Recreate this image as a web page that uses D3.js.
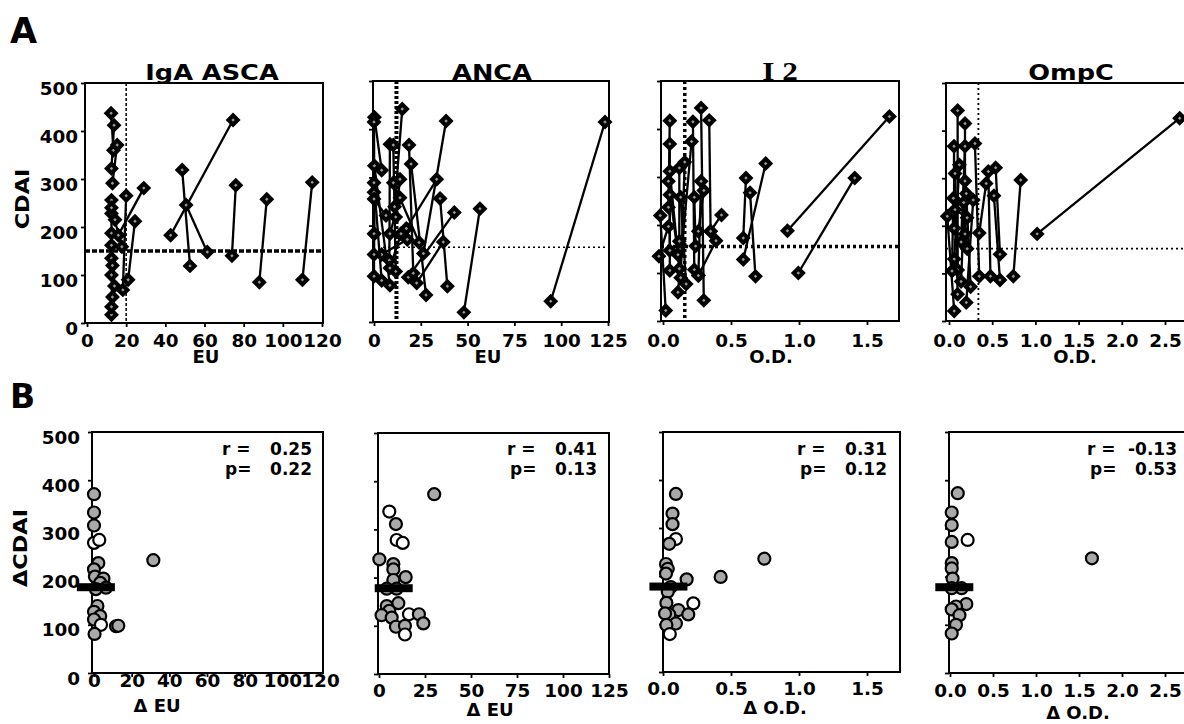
<!DOCTYPE html>
<html><head><meta charset="utf-8">
<script src="https://cdn.jsdelivr.net/npm/d3@7"></script>
<style>
body{margin:0;background:#fff}
svg{display:block}
text{font-family:"DejaVu Sans","Liberation Sans",Arial,sans-serif;font-weight:bold;fill:#000}
</style>
</head><body>
<svg id="c" width="1184" height="724"></svg>
<script>
// ---------------- DATA ----------------
const yTicks = [0,100,200,300,400,500];
const ascaTicks = [0,20,40,60,80,100,120];
const ancaTicks = [0,25,50,75,100,125];
const i2Ticks = [0,0.5,1.0,1.5];
const ompcTicks = [0,0.5,1.0,1.5,2.0,2.5];
const titles = ["IgA ASCA","ANCA","I 2","OmpC"];
const unitsA = ["EU","EU","O.D.","O.D."];
const unitsB = ["Δ EU","Δ EU","Δ O.D.","Δ O.D."];
const cutX = [20,12,0.16,0.34];
const cutY = [150,155,155,152];

// pairs: [x before, CDAI before, x after, CDAI after]
const ascaPairs = [
 [12.3,437,13.5,360],[13.8,412,12.5,322],[15.4,371,13,291],[12.5,256,12.5,187],
 [12.5,228,14.3,215],[12.5,162,12.5,100],[12.5,135,13,54],[14,77,12.5,17],
 [12.5,34,13,120],[16,183,29,281],[20,265,18.3,69],[24.5,212,21,90],
 [17.8,159,12.5,240],[42.7,183,74.6,423],[48.6,319,52.6,119],[50.6,246,61.4,148],
 [74,140,76,287],[88,85,91.8,258],[110,90,115,293]
];
const ancaPairs = [
 [94.4,43,123.4,415],[48,20,56.6,235],[35.3,256,39.2,74],[22.8,81,37,166],
 [42.9,227,18.3,93],[38.5,417,26.4,142],[33.5,296,17.3,194],[18.7,367,21,101],
 [19.8,328,27.8,56],[15.1,442,11,239],[0.2,425,4.1,315],[0,415,0.2,183],
 [8.5,369,8.2,128],[10.3,367,11.6,105],[0.2,324,8.5,76],[0,289,4.1,86],
 [0,269,0,95],[0,255,6.4,221],[13.9,296,11.6,218],[13.9,258,8.5,183],
 [10.3,289,24.1,165],[14.4,183,8.5,112],[17.8,171,4.1,140],[0,183,0,140]
];
const i2Pairs = [
 [0.915,188,1.665,426],[0.995,100,1.41,298],[0.59,128,0.755,328],[0.61,298,0.59,173],
 [0.64,267,0.68,93],[0.35,187,0.43,221],[0.26,95,0.39,167],[0.28,444,0.30,43],
 [0.34,418,0.35,187],[0.22,415,0.23,107],[0.21,374,0.11,60],[0.05,417,0.04,237],
 [0.05,369,0.05,147],[0.05,312,0.12,109],[0.04,291,0.11,138],[0.05,263,0.05,105],
 [-0.02,220,0.02,22],[-0.03,135,0.04,197],[0.16,331,0.13,90],[0.12,319,0.12,166],
 [0.13,258,0.17,77],[0.23,258,0.24,156],[0.30,272,0.26,187],[0.28,291,0.26,95]
];
const ompcPairs = [
 [1.02,183,2.67,426],[0.745,94,0.83,296],[0.54,322,0.59,140],[0.455,314,0.48,94],
 [0.52,263,0.59,86],[0.30,373,0.35,94],[0.43,289,0.35,185],[0.10,442,0.10,107],
 [0.185,415,0.185,183],[0.058,367,0.06,195],[0.185,367,0.14,166],[0.12,328,0.06,130],
 [0.07,310,0.10,56],[0.185,294,0.14,83],[0.05,258,0.035,105],[0.20,268,0.25,72],
 [0.17,249,0.21,152],[0.28,254,0.20,39],[-0.02,220,0.06,21],[0.07,234,0.21,217]
];

// delta points: [delta x, delta CDAI, shaded(1)/open(0)]
const ascaDelta = [
 [0,371,1],[0,333,1],[0,306,1],[0,270,0],[2.8,276,0],[2.3,228,1],[0,215,1],[0.5,200,1],
 [5,196,1],[3.3,187,1],[1,174,1],[6.4,177,1],[1.8,139,1],[0,127,1],[3.3,118,1],[0,111,1],
 [3.7,100,0],[0.3,81,1],[11.7,97,1],[12.9,98,1],[31.5,234,1]
];
const ancaDelta = [
 [30,373,1],[5.6,337,0],[9.2,311,1],[9.6,278,0],[12.9,272,0],[0.2,238,1],[7.8,228,1],
 [7.8,217,1],[7.8,195,1],[14.5,201,1],[4.2,177,1],[9.6,177,1],[10.5,147,1],[4.2,141,1],
 [5.6,131,1],[1.4,122,1],[6.9,117,1],[9.2,98,1],[14.1,100,1],[14.1,82,0],[16.3,124,0],
 [21.7,124,1],[24.1,105,1]
];
const i2Delta = [
 [0.095,371,1],[0.07,330,1],[0.07,308,1],[0.095,277,0],[0.046,267,1],[0.745,236,1],
 [0.424,198,1],[0.022,225,1],[0.035,215,1],[0.022,205,1],[0.174,193,1],[0.057,177,1],
 [0.035,167,1],[0.223,143,0],[0.025,144,1],[0.113,129,1],[0.046,120,1],[0.015,122,1],
 [0.186,120,1],[0.095,101,1],[0.025,98,1],[0.05,79,0]
];
const ompcDelta = [
 [0.09,373,1],[0.02,333,1],[0.02,307,1],[0.02,272,1],[0.205,276,0],[1.65,238,1],
 [0.02,228,1],[0.02,217,1],[0.03,196,1],[0.135,176,1],[0.02,176,1],[0.19,143,1],
 [0.07,138,1],[0.02,132,1],[0.11,120,1],[0.07,100,1],[0.02,82,1]
];
const rVals = ["0.25","0.41","0.31","-0.13"];
const pVals = ["0.22","0.13","0.12","0.53"];
const medX = [1,8,0.04,0.05];
const medY = [178,178,178,178];

// ---------------- LAYOUT ----------------
const xTickSets = [ascaTicks, ancaTicks, i2Ticks, ompcTicks];
const fmts = [d3.format("d"), d3.format("d"), d3.format(".1f"), d3.format(".1f")];
const pairSets = [ascaPairs, ancaPairs, i2Pairs, ompcPairs];
const deltaSets = [ascaDelta, ancaDelta, i2Delta, ompcDelta];

const LA = [
 {xr:[87,322],  box:[85,323,83,323],  title:212, unit:206},
 {xr:[374,608], box:[373,609,81,322], title:492, unit:488},
 {xr:[663,867], box:[661,899,81,321], title:780, unit:771},
 {xr:[949,1165],box:[946,1194,83,321],title:1071,unit:1075}
];
const LB = [
 {xr:[94,320],  box:[92,323,432,673],  lab:687, unit:157, unitY:712, valEnd:312},
 {xr:[379,609], box:[378,609,433,674], lab:697, unit:490, unitY:716, valEnd:597},
 {xr:[663,867], box:[663,900,432,672], lab:695, unit:775, unitY:714, valEnd:887},
 {xr:[950,1165],box:[949,1194,432,673],lab:697, unit:1078,unitY:719, valEnd:1177}
];
const vStyle = [{w:1.5,d:"3,2"},{w:4,d:"3,2"},{w:3.5,d:"3,3"},{w:1.8,d:"2,3"}];
const hStyle = [{w:3.5,d:"5,2"},{w:1.6,d:"2,3"},{w:3.5,d:"3,3"},{w:1.8,d:"2,3"}];

const svg = d3.select("#c");
const TS = 17.5, SX = 1.05;

function T(g, x, y, s, o){
  o = o || {};
  const t = g.append("text")
    .attr("transform", `translate(${x},${y})${o.rot?` rotate(${o.rot})`:""} scale(${o.sx||1},1)`)
    .attr("text-anchor", o.a || "middle")
    .style("font-size", (o.fs||TS)+"px")
    .text(s);
  if (o.ff) t.style("font-family", o.ff);
  return t;
}

function axes(g, x, y, box, ticks, fmt, showY, labY, yLabX){
  const xa = g.append("g").attr("transform", `translate(0,${box[3]})`)
    .call(d3.axisBottom(x).tickValues(ticks).tickSize(4).tickFormat(fmt));
  xa.select(".domain").remove();
  xa.selectAll(".tick line").attr("stroke","#000").attr("stroke-width",1.8);
  xa.selectAll(".tick text").attr("y", labY - box[3]).attr("dy", null)
    .attr("transform", `scale(${SX},1)`).style("font-size", TS+"px").attr("fill","#000")
    .style("font-family",'"DejaVu Sans",sans-serif').style("font-weight","bold");
  const ya = g.append("g").attr("transform", `translate(${box[0]},0)`)
    .call(d3.axisLeft(y).tickValues(yTicks).tickSize(4).tickFormat(showY ? d3.format("d") : ""));
  ya.select(".domain").remove();
  ya.selectAll(".tick line").attr("stroke","#000").attr("stroke-width",1.8);
  ya.selectAll(".tick text").attr("x", (yLabX - box[0]) / SX).attr("y", 11).attr("dy", null)
    .attr("transform", `scale(${SX},1)`).style("font-size", TS+"px").attr("fill","#000")
    .style("font-family",'"DejaVu Sans",sans-serif').style("font-weight","bold");
  g.append("rect").attr("x", box[0]).attr("y", box[2])
    .attr("width", box[1]-box[0]).attr("height", box[3]-box[2])
    .attr("fill","none").attr("stroke","#000").attr("stroke-width",2);
}

// Panel letters and y titles
T(svg, 10, 43, "A", {a:"start", fs:35, sx:1.0});
T(svg, 10, 408, "B", {a:"start", fs:33, sx:1.0});
T(svg, 29, 199, "CDAI", {rot:-90, fs:20, sx:1.12});
T(svg, 27, 548, "ΔCDAI", {rot:-90, fs:20, sx:1.12});

const bigSym = d3.symbol(d3.symbolSquare, 112)();
const smallSym = d3.symbol(d3.symbolSquare, 6)();

// ---------------- ROW A ----------------
LA.forEach((L, i) => {
  const g = svg.append("g");
  const x = d3.scaleLinear().domain([xTickSets[i][0], xTickSets[i][xTickSets[i].length-1]]).range(L.xr);
  const y = d3.scaleLinear().domain([0,500]).range([L.box[3], L.box[2]]);
  axes(g, x, y, L.box, xTickSets[i], fmts[i], i===0, 347, 78);

  // reference lines
  g.append("line").attr("x1", x(cutX[i])).attr("x2", x(cutX[i]))
    .attr("y1", L.box[2]).attr("y2", L.box[3])
    .attr("stroke","#000").attr("stroke-width", vStyle[i].w).attr("stroke-dasharray", vStyle[i].d);
  g.append("line").attr("x1", L.box[0]).attr("x2", Math.min(L.box[1],1184))
    .attr("y1", y(cutY[i])).attr("y2", y(cutY[i]))
    .attr("stroke","#000").attr("stroke-width", hStyle[i].w).attr("stroke-dasharray", hStyle[i].d);

  const pairs = pairSets[i];
  g.selectAll("line.pair").data(pairs).join("line").attr("class","pair")
    .attr("x1", d => x(d[0])).attr("y1", d => y(d[1]))
    .attr("x2", d => x(d[2])).attr("y2", d => y(d[3]))
    .attr("stroke","#000").attr("stroke-width", 2.3);

  const pts = pairs.flatMap(d => [[d[0],d[1]],[d[2],d[3]]]);
  const dg = g.selectAll("g.dm").data(pts).join("g").attr("class","dm")
    .attr("transform", d => `translate(${x(d[0])},${y(d[1])}) rotate(45)`);
  dg.append("path").attr("d", bigSym).attr("fill","#000");
  dg.append("path").attr("d", smallSym).attr("fill","#999");

  T(g, L.title, 80, titles[i], i===2 ? {fs:25, sx:1.25, ff:'"Liberation Serif","Times New Roman",serif'} : {fs:20.5, sx:1.25});
  T(g, L.unit, 363, unitsA[i], {fs:18, sx:1.0});
});

// ---------------- ROW B ----------------
LB.forEach((L, i) => {
  const g = svg.append("g");
  const x = d3.scaleLinear().domain([xTickSets[i][0], xTickSets[i][xTickSets[i].length-1]]).range(L.xr);
  const y = d3.scaleLinear().domain([0,500]).range([L.box[3], L.box[2]]);
  axes(g, x, y, L.box, xTickSets[i], fmts[i], i===0, L.lab, 80);

  g.selectAll("circle.pt").data(deltaSets[i]).join("circle").attr("class","pt")
    .attr("cx", d => x(d[0])).attr("cy", d => y(d[1])).attr("r", 6)
    .attr("fill", d => d[2] ? "#a9a9a9" : "#fff")
    .attr("stroke","#000").attr("stroke-width", 2.2);

  g.append("rect").attr("x", x(medX[i]) - 19).attr("y", y(medY[i]) - 4)
    .attr("width", 38).attr("height", 8).attr("fill","#000");

  T(g, L.valEnd - 90, 455, "r =", {a:"start", fs:17, sx:1.0});
  T(g, L.valEnd, 455, rVals[i], {a:"end", fs:17, sx:1.0});
  T(g, L.valEnd - 87, 475, "p=", {a:"start", fs:17, sx:1.0});
  T(g, L.valEnd, 475, pVals[i], {a:"end", fs:17, sx:1.0});

  T(g, L.unit, L.unitY, unitsB[i], {fs:18, sx:1.0});
});
</script>
</body></html>
